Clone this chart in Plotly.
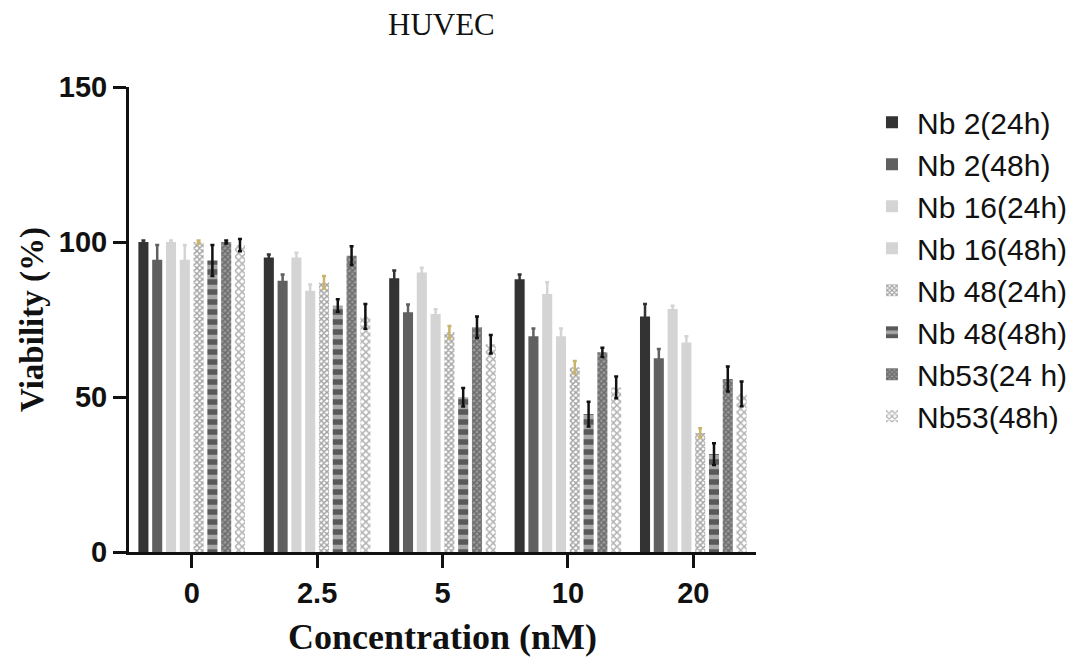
import plotly.graph_objects as go

categories = ["0", "2.5", "5", "10", "20"]
series_names = ["Nb 2(24h)", "Nb 2(48h)", "Nb 16(24h)", "Nb 16(48h)",
                "Nb 48(24h)", "Nb 48(48h)", "Nb53(24 h)", "Nb53(48h)"]

nb2_24 = [100, 95.0, 88.3, 88.0, 76.0]
nb2_48 = [94.3, 87.5, 77.3, 69.6, 62.5]
nb16_24 = [100, 95.0, 90.2, 83.2, 78.4]
nb16_48 = [94.3, 84.3, 76.8, 69.6, 67.6]
nb48_24 = [100, 87.0, 70.9, 59.6, 38.4]
nb48_48 = [94.0, 79.5, 49.9, 44.5, 31.6]
nb53_24 = [100, 95.6, 72.5, 64.4, 55.8]
nb53_48 = [99.0, 76.0, 67.0, 53.1, 51.0]

err_nb2_24 = [0.5, 1.0, 2.5, 1.5, 4.0]
err_nb2_48 = [4.7, 2.0, 2.5, 2.5, 3.0]
err_nb16_24 = [0.5, 1.5, 1.5, 3.8, 1.0]
err_nb16_48 = [4.7, 2.0, 1.5, 2.5, 2.0]
err_nb48_24 = [0.5, 2.0, 2.0, 2.0, 1.5]
err_nb48_48 = [5.0, 2.0, 3.0, 4.0, 3.5]
err_nb53_24 = [0.5, 3.0, 3.5, 1.5, 4.0]
err_nb53_48 = [2.0, 4.0, 3.0, 3.5, 4.0]

values = [nb2_24, nb2_48, nb16_24, nb16_48, nb48_24, nb48_48, nb53_24, nb53_48]
errors = [err_nb2_24, err_nb2_48, err_nb16_24, err_nb16_48,
          err_nb48_24, err_nb48_48, err_nb53_24, err_nb53_48]

styles = [
    dict(color="#333333", pattern=dict(shape=""), err="#333333"),
    dict(color="#606060", pattern=dict(shape=""), err="#606060"),
    dict(color="#d4d4d4", pattern=dict(shape=""), err="#d4d4d4"),
    dict(color="#d4d4d4", pattern=dict(shape=""), err="#d4d4d4"),
    dict(color="#ffffff", pattern=dict(shape="x", fgcolor="#444444", bgcolor="#ffffff", size=4, solidity=0.6), err="#c9b46b"),
    dict(color="#a8a8a8", pattern=dict(shape="-", fgcolor="#0a0a0a", bgcolor="#a8a8a8", size=10, solidity=0.55), err="#111111"),
    dict(color="#888888", pattern=dict(shape="x", fgcolor="#3a3a3a", bgcolor="#9a9a9a", size=4, solidity=0.6), err="#111111"),
    dict(color="#ffffff", pattern=dict(shape="x", fgcolor="#666666", bgcolor="#ffffff", size=5, solidity=0.5), err="#111111"),
]

fig = go.Figure()
for name, vals, errs, st in zip(series_names, values, errors, styles):
    fig.add_trace(go.Bar(
        name=name, x=categories, y=vals,
        marker=dict(color=st["color"], pattern=st["pattern"], line=dict(width=0)),
        error_y=dict(type="data", array=errs, visible=True, color=st["err"],
                     thickness=2.5, width=2),
        legendgroup=name,
    ))

fig.update_layout(
    width=1090, height=666,
    margin=dict(l=121, r=342, t=79, b=122),
    plot_bgcolor="white", paper_bgcolor="white",
    barmode="group", bargap=0.12, bargroupgap=0.27,
    legend=dict(x=1.177, y=0.98, xanchor="left", yanchor="top",
                font=dict(family="Liberation Sans", size=30, color="#111111"),
                tracegroupgap=0, itemwidth=40),
    showlegend=True,
)
fig.add_annotation(text="HUVEC", xref="paper", yref="paper", x=0.498, y=1.135,
                   xanchor="center", yanchor="middle", showarrow=False,
                   font=dict(family="Liberation Serif", size=31, color="#111111"))
fig.update_xaxes(
    showline=True, linewidth=3, linecolor="#111111",
    ticks="outside", ticklen=13, tickwidth=3, tickcolor="#111111",
    tickfont=dict(family="Liberation Sans", size=29, color="#111111"),
    title=dict(text="<b>Concentration (nM)</b>", font=dict(family="Liberation Serif", size=36, color="#111111"), standoff=17),
    showgrid=False,
    tickvals=categories, ticktext=["<b>%s</b>" % c for c in categories],
)
fig.update_yaxes(
    range=[0, 150], tickvals=[0, 50, 100, 150], ticktext=["<b>0</b>", "<b>50</b>", "<b>100</b>", "<b>150</b>"],
    showline=True, linewidth=3, linecolor="#111111",
    ticks="outside", ticklen=13, tickwidth=3, tickcolor="#111111",
    tickfont=dict(family="Liberation Sans", size=29, color="#111111"),
    title=dict(text="<b>Viability (%)</b>", font=dict(family="Liberation Serif", size=33, color="#111111"), standoff=6),
    showgrid=False, zeroline=False,
)

fig.write_html("out.html")
